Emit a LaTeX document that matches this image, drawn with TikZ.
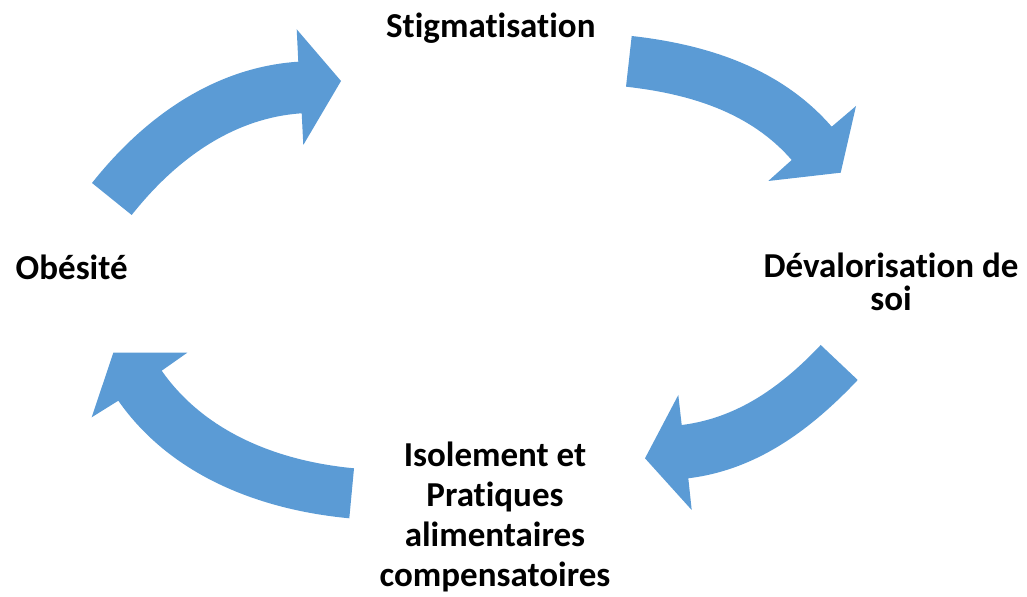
\documentclass[tikz,border=0pt]{standalone}
\usepackage{fontspec}
\setmainfont{Carlito}[Ligatures={NoCommon,NoRequired,NoContextual}]
\definecolor{arrowblue}{HTML}{5B9BD5}
\begin{document}
\begin{tikzpicture}[x=0.5pt,y=0.5pt,
  blockarrow/.style={fill=arrowblue, draw=none},
  txt/.style={font=\bfseries\fontsize{17.5}{20}\selectfont, inner sep=0pt, align=center, text=black}]
\useasboundingbox (0,0) rectangle (1027,-597);
% Obesite -> Stigmatisation
\fill[blockarrow] (92,-183) to[out=51.6,in=183.8,looseness=0.9] (298.3,-61.7)
  -- (296.7,-29.3) -- (341,-81) -- (303.3,-145) -- (301.7,-113.3)
  to[out=183.8,in=51.6,looseness=0.9] (131.7,-215) -- cycle;
% Stigmatisation -> Devalorisation
\fill[blockarrow] (631.7,-36) to[out=-6.4,in=131,looseness=0.9] (831.7,-126.7)
  -- (856,-106) -- (840.7,-172.7) -- (768.3,-181) -- (791.7,-160)
  to[out=131,in=-6.4,looseness=0.9] (626,-86.7) -- cycle;
% Devalorisation -> Isolement
\fill[blockarrow] (820.7,-345) to[out=226.6,in=7,looseness=0.9] (681.7,-425)
  -- (678.3,-395) -- (645,-458.3) -- (691.7,-510) -- (688.3,-478.3)
  to[out=7,in=226.6,looseness=0.9] (857.7,-380) -- cycle;
% Isolement -> Obesite
\fill[blockarrow] (349.3,-518.3) to[out=174.6,in=305,looseness=0.9] (118.3,-400.7)
  -- (91.7,-417.3) -- (113.3,-352.7) -- (187.3,-352.7) -- (161.7,-370.7)
  to[out=305,in=174.6,looseness=0.9] (354,-468.3) -- cycle;
\node[txt, anchor=base] (stig) at (490.8,-37.3) {Stigmatisation};
\node[txt, anchor=base] (obes) at (71.7,-280) {Obésité};
\node[txt, anchor=base, font=\bfseries\fontsize{17.5}{16.5}\selectfont] (deval) at (891,-311) {Dévalorisation de\\soi};
\node[txt, anchor=base] (isol) at (495,-586.7) {Isolement et\\Pratiques\\alimentaires\\compensatoires};
\end{tikzpicture}
\end{document}
